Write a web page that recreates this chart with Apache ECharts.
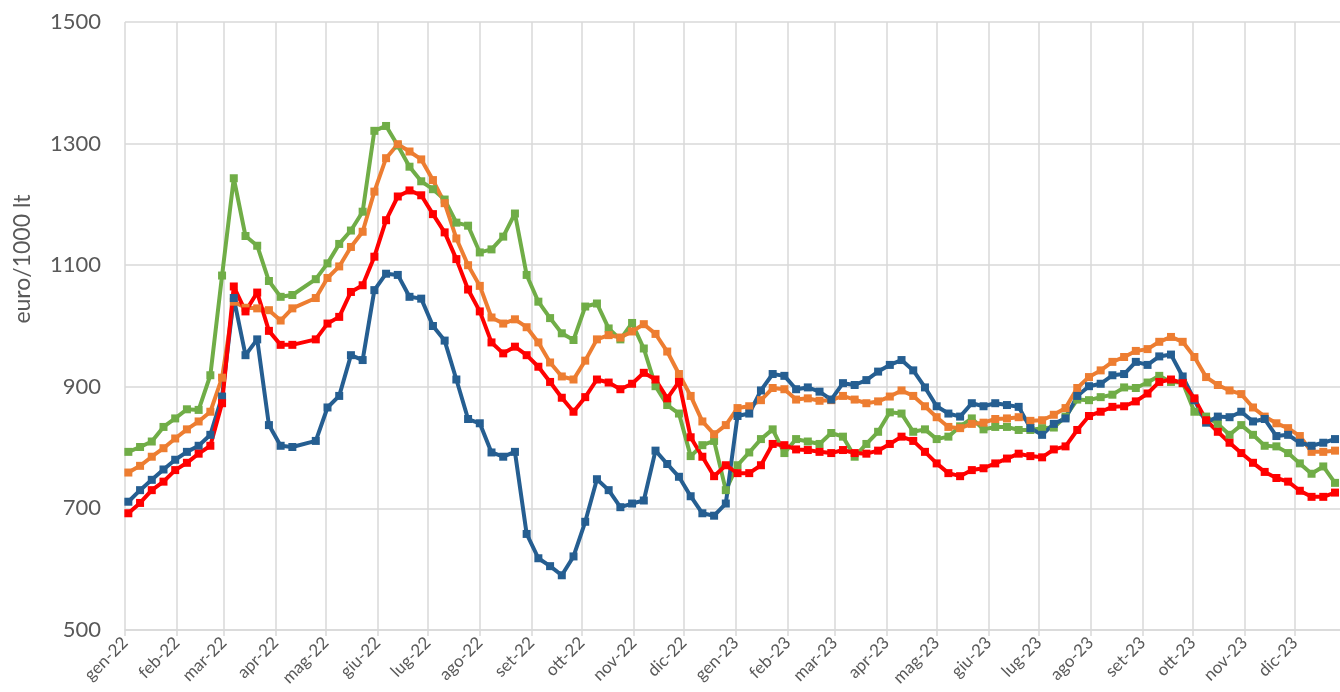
<!DOCTYPE html>
<html>
<head>
<meta charset="utf-8">
<script src="https://cdn.jsdelivr.net/npm/echarts@6/dist/echarts.min.js"></script>
<style>
html,body{margin:0;padding:0;background:#fff;}
#chart{width:1340px;height:692px;}
</style>
</head>
<body>
<div id="chart"></div>
<script>
// Weekly observation dates (week of 18 Apr 2022 is missing in the source)
const dates = [
'2022-01-03','2022-01-10','2022-01-17','2022-01-24','2022-01-31','2022-02-07','2022-02-14','2022-02-21','2022-02-28',
'2022-03-07','2022-03-14','2022-03-21','2022-03-28','2022-04-04','2022-04-11','2022-04-25',
'2022-05-02','2022-05-09','2022-05-16','2022-05-23','2022-05-30','2022-06-06','2022-06-13','2022-06-20','2022-06-27',
'2022-07-04','2022-07-11','2022-07-18','2022-07-25','2022-08-01','2022-08-08','2022-08-15','2022-08-22','2022-08-29',
'2022-09-05','2022-09-12','2022-09-19','2022-09-26','2022-10-03','2022-10-10','2022-10-17','2022-10-24','2022-10-31',
'2022-11-07','2022-11-14','2022-11-21','2022-11-28','2022-12-05','2022-12-12','2022-12-19','2022-12-26',
'2023-01-02','2023-01-09','2023-01-16','2023-01-23','2023-01-30','2023-02-06','2023-02-13','2023-02-20','2023-02-27',
'2023-03-06','2023-03-13','2023-03-20','2023-03-27','2023-04-03','2023-04-10','2023-04-17','2023-04-24',
'2023-05-01','2023-05-08','2023-05-15','2023-05-22','2023-05-29','2023-06-05','2023-06-12','2023-06-19','2023-06-26',
'2023-07-03','2023-07-10','2023-07-17','2023-07-24','2023-07-31','2023-08-07','2023-08-14','2023-08-21','2023-08-28',
'2023-09-04','2023-09-11','2023-09-18','2023-09-25','2023-10-02','2023-10-09','2023-10-16','2023-10-23','2023-10-30',
'2023-11-06','2023-11-13','2023-11-20','2023-11-27','2023-12-04','2023-12-11','2023-12-18','2023-12-25'
];

const seriesGreen = [
793,801,810,834,848,863,862,919,1083,
1243,1148,1132,1074,1048,1051,1077,
1103,1135,1157,1188,1321,1329,1297,1262,1238,
1225,1208,1170,1165,1121,1126,1147,1185,1084,
1040,1013,988,977,1032,1037,996,978,1005,
963,901,870,856,786,804,811,730,
771,792,814,830,791,814,810,806,824,
818,785,806,826,858,856,826,830,
814,818,835,848,830,834,834,829,829,
832,833,851,879,878,883,887,899,898,
907,918,908,907,859,851,839,821,837,
821,803,802,791,774,757,769,742
];

const seriesOrange = [
759,770,785,799,815,830,843,859,915,
1040,1030,1029,1026,1009,1029,1046,
1079,1098,1130,1155,1221,1276,1299,1287,1274,
1240,1202,1144,1100,1066,1014,1004,1011,998,
973,940,917,912,943,978,985,981,991,
1003,987,958,921,885,843,822,837,
865,868,878,898,896,879,881,877,878,
885,879,873,876,884,894,885,868,
850,834,832,839,841,847,848,850,844,
845,854,865,898,916,927,941,949,959,
962,974,982,974,949,916,903,894,888,
866,851,840,832,819,793,793,795
];

const seriesBlue = [
711,730,747,764,780,793,803,821,884,
1046,952,978,837,803,801,811,
866,885,952,944,1059,1086,1084,1048,1045,
1000,976,912,847,840,792,785,793,658,
618,605,590,621,678,748,730,702,708,
713,795,773,752,720,692,688,708,
852,856,894,921,918,896,899,892,879,
906,903,911,925,936,944,927,899,
868,856,851,873,868,873,870,867,832,
821,839,848,885,901,905,919,921,941,
936,950,953,917,878,841,851,850,859,
843,847,819,821,808,803,808,814
];

const seriesRed = [
692,709,730,744,763,775,790,803,873,
1065,1024,1055,992,969,969,978,
1004,1015,1056,1067,1114,1174,1213,1223,1215,
1184,1154,1110,1060,1024,973,955,966,952,
933,908,882,859,883,912,907,896,905,
923,912,881,908,817,785,753,771,
758,758,771,806,804,797,796,793,791,
796,791,790,795,806,818,811,793,
774,758,753,763,766,774,782,790,786,
784,797,802,829,852,859,867,868,876,
889,908,912,906,881,845,826,808,791,
775,760,750,744,729,719,719,726
];

// Month tick positions and their labels
const monthTicks = [
'2022-01-01','2022-02-01','2022-03-01','2022-04-01','2022-05-01','2022-06-01',
'2022-07-01','2022-08-01','2022-09-01','2022-10-01','2022-11-01','2022-12-01',
'2023-01-01','2023-02-01','2023-03-01','2023-04-01','2023-05-01','2023-06-01',
'2023-07-01','2023-08-01','2023-09-01','2023-10-01','2023-11-01','2023-12-01'
];
const monthLabels = [
'gen-22','feb-22','mar-22','apr-22','mag-22','giu-22','lug-22','ago-22','set-22','ott-22','nov-22','dic-22',
'gen-23','feb-23','mar-23','apr-23','mag-23','giu-23','lug-23','ago-23','set-23','ott-23','nov-23','dic-23'
];
const yTicks = [500, 700, 900, 1100, 1300, 1500];

// day number counted from 1 Jan 2022 (UTC, no timezone drift)
function toDay(s) {
  const p = s.split('-').map(Number);
  return Math.round((Date.UTC(p[0], p[1] - 1, p[2]) - Date.UTC(2022, 0, 1)) / 86400000);
}
const tickDays = monthTicks.map(toDay);
function pairs(vals) { return vals.map((v, i) => [toDay(dates[i]), v]); }

const FONT = 'Lato, "Open Sans", sans-serif';
const GRID = '#d9d9d9';
const TXT = '#595959';

function line(name, color, vals) {
  return {
    name: name, type: 'line', data: pairs(vals),
    symbol: 'rect', symbolSize: 8,
    lineStyle: { color: color, width: 4 },
    itemStyle: { color: color },
    emphasis: { disabled: true }
  };
}

const chart = echarts.init(document.getElementById('chart'), null, { renderer: 'canvas' });
chart.setOption({
  animation: false,
  backgroundColor: '#ffffff',
  grid: { left: 125, right: 0, top: 22, bottom: 62, containLabel: false },
  xAxis: {
    type: 'value',
    min: 0,
    max: toDay('2023-12-28'),
    axisLine: { show: true, lineStyle: { color: GRID, width: 1.5 } },
    axisTick: { show: true, length: 6, lineStyle: { color: GRID, width: 1.5 }, customValues: tickDays },
    splitLine: { show: true, lineStyle: { color: GRID, width: 1.5 } },
    axisLabel: {
      customValues: tickDays,
      rotate: 45, margin: 10,
      color: TXT, fontFamily: FONT, fontSize: 17,
      formatter: function (v) {
        let best = 0, bd = Infinity;
        for (let i = 0; i < tickDays.length; i++) {
          const d = Math.abs(tickDays[i] - v);
          if (d < bd) { bd = d; best = i; }
        }
        return monthLabels[best];
      }
    }
  },
  yAxis: {
    type: 'value',
    min: yTicks[0], max: yTicks[yTicks.length - 1], interval: 200,
    axisLine: { show: false },
    axisTick: { show: false },
    splitLine: { show: true, lineStyle: { color: GRID, width: 1.5 } },
    axisLabel: {
      color: TXT, fontFamily: FONT, fontSize: 22, margin: 24,
      formatter: function (v) { return String(v); }
    }
  },
  graphic: [{
    type: 'text', x: 23, y: 259, rotation: Math.PI / 2,
    style: { text: 'euro/1000 lt', fill: TXT, font: '23px ' + FONT, textAlign: 'center', textVerticalAlign: 'middle' }
  }],
  series: [
    line('Serie 1', '#70AD47', seriesGreen),
    line('Serie 2', '#ED7D31', seriesOrange),
    line('Serie 3', '#255E91', seriesBlue),
    line('Serie 4', '#FF0000', seriesRed)
  ]
});
</script>
</body>
</html>
